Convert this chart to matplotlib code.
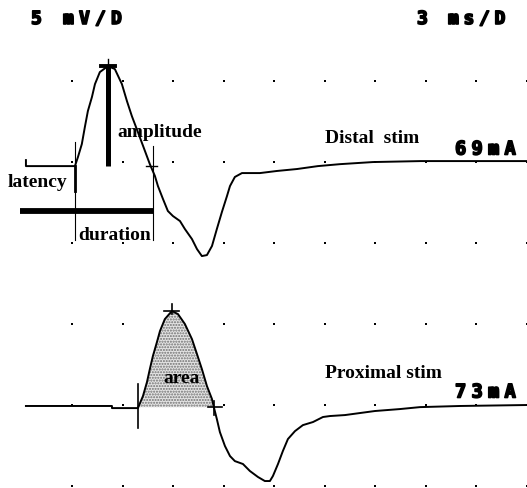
import matplotlib
matplotlib.use("Agg")
import matplotlib.pyplot as plt
import matplotlib.patheffects as pe
import numpy as np

# time in ms, voltage in mV (3 ms/D, 5 mV/D)
distal_t = [0.24, 0.24, 3.15, 3.33, 3.56, 3.74, 3.92, 4.16, 4.34, 4.63, 5.11, 5.52,
            5.94, 6.24, 6.53, 6.89, 7.31, 7.60, 7.90, 8.08, 8.38, 8.67, 8.97, 9.39,
            9.68, 10.10, 10.40, 10.69, 10.99, 11.29, 11.58, 11.88, 12.18, 12.36,
            12.65, 13.07, 14.14, 15.15, 16.34, 17.58, 18.89, 20.85, 23.70, 30.0]
distal_v = [20.11, 19.74, 19.74, 20.30, 21.10, 22.15, 23.14, 24.00, 24.80, 25.54, 25.91, 25.73,
            24.80, 23.75, 22.83, 21.84, 20.67, 19.86, 19.13, 18.51, 17.71, 16.97, 16.66, 16.35,
            15.86, 15.24, 14.62, 14.19, 14.25, 14.81, 15.86, 16.91, 17.89, 18.51,
            19.07, 19.31, 19.31, 19.44, 19.56, 19.74, 19.86, 19.99, 20.05, 20.05]

prox_t = [0.24, 5.35, 5.35, 6.89, 7.19, 7.43, 7.60, 7.78, 8.02, 8.20, 8.49, 8.91,
          9.27, 9.68, 10.10, 10.40, 10.69, 10.99, 11.29, 11.40, 11.58, 11.76, 12.06,
          12.36, 12.65, 13.13, 13.54, 14.02, 14.43, 14.73, 14.91, 15.21, 15.50,
          15.80, 16.22, 16.69, 17.29, 17.88, 18.30, 19.19, 20.97, 22.45, 23.64,
          26.02, 30.0]
prox_v = [4.94, 4.94, 4.81, 4.81, 5.55, 6.42, 7.22, 8.02, 8.88, 9.56, 10.30, 10.80,
          10.61, 10.00, 9.07, 8.14, 7.22, 6.17, 5.37, 4.87, 4.13, 3.33, 2.47,
          1.85, 1.54, 1.36, 0.93, 0.56, 0.31, 0.31, 0.62, 1.36, 2.16,
          2.90, 3.39, 3.76, 3.95, 4.26, 4.32, 4.38, 4.63, 4.75, 4.87,
          4.94, 5.0]

grid_t = [3, 6, 9, 12, 15, 18, 21, 24, 27, 30]
grid_v = [0, 5, 10, 15, 20, 25]

distal_base = 19.74
prox_base = 4.87
distal_onset, distal_peak_t, distal_peak_v, distal_end = 3.15, 5.11, 25.91, 7.72
prox_onset, prox_peak_t, prox_peak_v, prox_end = 6.89, 8.91, 10.80, 11.40


def pixel_text(fig, text, x, y, adv, size):
    # blocky monitor font: one glyph per fixed cell
    for i, ch in enumerate(text):
        fig.text((x + i * adv) / 527, 1 - y / 489, ch, fontsize=size,
                 family="DejaVu Sans Mono", weight="bold", ha="left", va="center",
                 path_effects=[pe.withStroke(linewidth=1.2, foreground="black")])


fig = plt.figure(figsize=(5.27, 4.89), dpi=100)
ax = fig.add_axes([0, 0, 1, 1])
ax.set_xlim(-1.3, 30.0)
ax.set_ylim(-0.12, 30.05)
ax.axis("off")

gx, gy = np.meshgrid(grid_t, grid_v)
ax.scatter(gx.ravel(), gy.ravel(), s=3, marker="s", color="black", lw=0)

pt = np.array(prox_t)
pv = np.array(prox_v)
m = (pt >= prox_onset) & (pt <= prox_end)
plt.rcParams["hatch.color"] = "#707070"
ax.fill_between(pt[m], pv[m], prox_base, facecolor="#e4e4e4", hatch="......", lw=0)

ax.plot(distal_t, distal_v, color="black", lw=1.4, solid_joinstyle="round")
ax.plot(prox_t, prox_v, color="black", lw=1.4, solid_joinstyle="round")

# distal annotations
ax.plot([distal_onset, distal_onset], [15.2, 21.2], color="black", lw=0.8)
ax.plot([distal_onset, distal_onset], [18.2, distal_base], color="black", lw=2)
ax.plot([7.78, 7.78], [15.2, 21.0], color="black", lw=0.8)
ax.plot([7.35, 8.05], [distal_base, distal_base], color="black", lw=1)
ax.plot([distal_peak_t - 0.4, distal_peak_t + 0.4], [distal_peak_v, distal_peak_v], color="black", lw=2.8)
ax.plot([distal_peak_t, distal_peak_t], [distal_peak_v, distal_peak_v + 0.45], color="black", lw=1)
ax.plot([distal_peak_t, distal_peak_t], [distal_base, distal_peak_v], color="black", lw=3.6,
        solid_capstyle="butt")
ax.plot([-0.12, 7.78], [17.0, 17.0], color="black", lw=4.2, solid_capstyle="butt")

# proximal annotations
ax.plot([prox_onset, prox_onset], [3.58, 6.29], color="black", lw=1.2)
ax.plot([prox_peak_t - 0.45, prox_peak_t + 0.45], [prox_peak_v, prox_peak_v], color="black", lw=1.2)
ax.plot([prox_peak_t, prox_peak_t], [prox_peak_v - 0.2, prox_peak_v + 0.45], color="black", lw=1.2)
ax.plot([11.05, 11.88], [prox_base, prox_base], color="black", lw=1.2)
ax.plot([prox_end, prox_end], [4.38, 5.24], color="black", lw=1.2)

serif = dict(family="Liberation Serif", weight="bold", fontsize=14)
ax.text(5.70, 21.9, "amplitude", ha="left", va="center", **serif)
ax.text(-0.83, 18.8, "latency", ha="left", va="center", **serif)
ax.text(3.33, 15.5, "duration", ha="left", va="center", **serif)
ax.text(18.0, 21.5, "Distal  stim", ha="left", va="center", **serif)
ax.text(8.38, 6.7, "area", ha="left", va="center", **serif)
ax.text(18.0, 7.0, "Proximal stim", ha="left", va="center", **serif)

pixel_text(fig, "5 mV/D", 31, 20, 16, 13)
pixel_text(fig, "3 ms/D", 417, 20, 15.5, 13)
pixel_text(fig, "69mA", 455, 150, 16.5, 13.5)
pixel_text(fig, "73mA", 455, 393, 16.5, 13.5)

fig.savefig("out.png", dpi=100)
